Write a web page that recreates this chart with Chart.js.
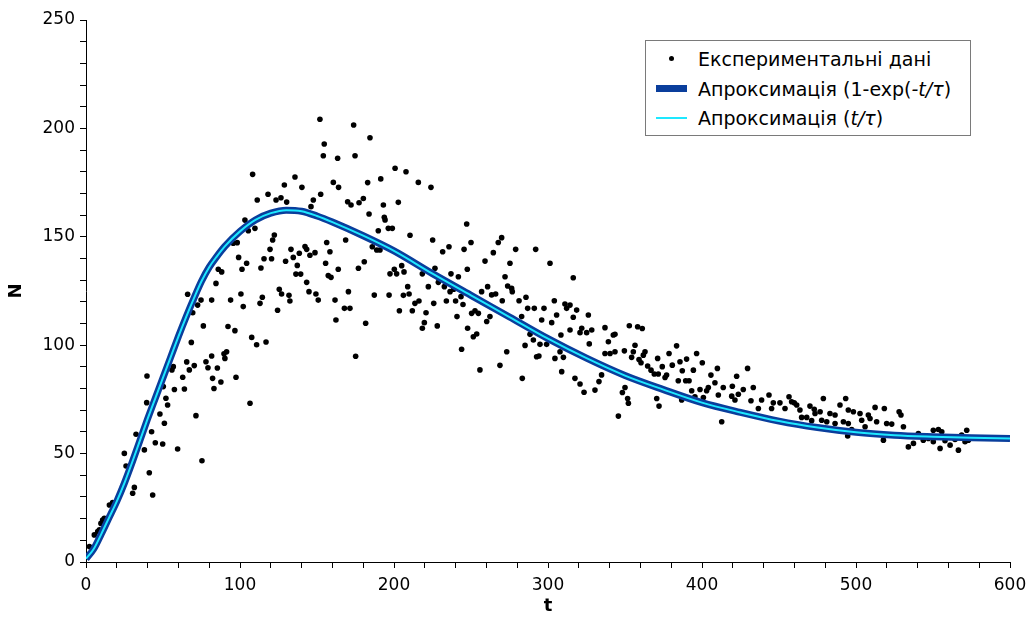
<!DOCTYPE html>
<html lang="uk">
<head>
  <meta charset="UTF-8">
  <title>N(t)</title>
  <script src="https://cdn.jsdelivr.net/npm/chart.js"></script>
  <style>
    body { margin: 0; background: #fff; }
    #wrap { position: relative; width: 1030px; height: 619px; }
    #legend {
      position: absolute; left: 645px; top: 40px; width: 324px; height: 94px;
      border: 1px solid #7a7a7a; background: #fff;
      font: 19px "DejaVu Sans", Verdana, sans-serif; color: #000;
    }
    .row { position: absolute; left: 52px; white-space: nowrap; line-height: 20px; }
    .sym { position: absolute; }
  </style>
</head>
<body>
<div id="wrap">
  <canvas id="chart" width="1030" height="619"></canvas>
  <div id="legend">
    <div class="sym" style="left:23px;top:15px;width:5px;height:5px;border-radius:50%;background:#000"></div>
    <div class="row" style="top:8px">Експериментальні дані</div>
    <div class="sym" style="left:10px;top:44px;width:31px;height:7px;background:#0a3e9c"></div>
    <div class="row" style="top:38px">Апроксимація (1-exp(<i>-t/τ</i>)</div>
    <div class="sym" style="left:10px;top:76px;width:31px;height:2px;background:#1ee8ff"></div>
    <div class="row" style="top:67px">Апроксимація (<i>t/τ</i>)</div>
  </div>
</div>
<script>
  // experimental points [t, N]
  const expPoints = [
    [2.2,7.1],[5.4,12.5],[7.6,14],[8.7,14.8],[9.7,17.8],[10.8,19.4],[11.9,20.1],[15.2,26.3],[17.3,27.4],
    [30.3,31.7],[31.4,34.4],[43.3,30.9],[41.1,41.2],[26,44.3],[24.9,50.1],[37.9,51.7],[45,55],[49.8,54.4],
    [59.5,52.1],[75.3,46.7],[32.5,58.9],[42.6,60.1],[50.9,64],[48,68.3],[71.4,67.5],[39.4,73.5],[53,72.4],
    [51.9,75.5],[39.6,85.8],[50.2,80.9],[57.4,79.6],[63.9,79.8],[55.8,88.6],[56.7,90.1],[62.8,85.2],
    [65.4,92.3],[67.1,88.6],[70.3,90.6],[77.9,92.4],[79.2,89.6],[68.4,101.3],[76.2,108.9],[69.3,115],
    [66,123.5],[74.7,120.8],[72.5,118.5],
    [151.9,204.2],[154.7,192.8],[154.1,187.4],[163.4,186.2],[108.2,178.8],[135.7,177.6],[128.8,173.9],
    [140.2,172.8],[160.6,175.1],[164,172.8],[111.2,167],[118.2,169.6],[123.4,167],[126.6,168],[130.3,166],
    [147.6,167],[152.4,169.6],[146.1,163.9],[103.2,157.7],[105.4,152.8],[109.7,153.9],[95.6,147],[98.2,147.3],
    [122.3,150.8],[121.2,148.5],[119.5,144.2],[133.1,144.2],[142.2,145.5],[143.3,144.2],[138.5,142.4],
    [145.4,141.5],[148.7,142.7],[134.6,140.5],[115.6,139.9],[120.5,139.9],[99.1,140.5],[104.3,137.8],
    [101.3,135],[113.6,135.6],[129.6,138.7],[137.2,136.8],[156.3,147.4],[158.4,143.1],[155.6,137.8],
    [157.3,132.1],[159.1,131.3],[163.8,135],[136.3,132.8],[139.4,132.8],[143.3,129],[85.9,135],[88.1,133.8],
    [84.4,128.5],[81.6,120.8],[93.9,120.8],[100.6,123.6],[102.1,117.8],[113,119.3],[114.5,122.1],
    [125.5,125.8],[127,123.6],[131.8,123],[132.4,120.4],[124.4,116.1],[144.8,124.7],[149.3,123.6],
    [150.8,120.8],[161.7,120.8],[162.3,111.6],[92.2,108.6],[96.7,106.7],[107.6,103.6],[110.8,100.2],
    [116.9,101.5],[81.6,95],[89.6,96],[91.3,97],[90.2,93.9],[85.3,89.5],[82.2,84.7],[87.6,83],[83.1,80],
    [97.4,85.2],[106.5,73.2],
    [173.8,201.6],[184.4,195.7],[174.7,187.4],[200.7,181.6],[207.8,180],[182.9,175],[191.4,176.7],
    [215.8,175.1],[224,172.8],[169.9,166.2],[172.1,164.7],[177.3,165.7],[180.1,167.7],[193.1,164.7],
    [202.8,165.9],[183.8,160.5],[193.7,159],[194.2,157.8],[196.3,153.9],[198.9,153.9],[189.8,152.8],
    [210.4,150.7],[225.1,148.5],[247.2,155.9],[168.6,148.5],[185.9,145.4],[188.8,143.9],[190.9,143.9],
    [235.7,145.4],[231.6,143.1],[245.5,144.2],[180.7,138.5],[205,136.7],[176.9,135.5],[197.4,132.9],
    [200.2,135],[201.7,132.9],[206.5,133.8],[218.4,132.9],[226.6,135.5],[237,132.9],[241.8,131.6],
    [247.6,135],[228.8,129],[232.7,127],[222.3,127],[208.9,127],[236.4,124.7],[238.8,125.8],[170.4,124.7],
    [187.2,123.1],[196.8,123.1],[206.1,123],[209.8,123.6],[213.6,119.3],[216.2,120.4],[225.8,119.3],
    [234,120.4],[240,120.4],[243.5,122.4],[244.8,118.8],[167.8,117],[171.4,117],[203.5,115.9],[211.9,115.9],
    [220.8,115],[181.6,110.1],[219.7,110.4],[218.4,107.8],[228.1,108.9],[240.9,113.2],[247.8,107.8],
    [243.9,98.1],[175.1,94.9],
    [250,147.4],[267.7,147.4],[269.9,149.6],[279,144.2],[292,144.2],[264.5,142.7],[259.1,138.8],
    [275.3,137.8],[301.3,137.8],[272.1,131.6],[316.4,131.1],[273.8,127.3],[276.4,126.2],[276.8,124.7],
    [260.8,127],[256.9,124.7],[263.4,123.2],[266,123.6],[270.3,120.5],[281.2,120.5],[285.7,122.1],
    [286.8,117],[291.1,117],[297.4,117],[304.1,120.5],[311,119],[314.3,118.5],[312.1,117],[318.6,116.2],
    [316.4,112.9],[326.2,113.9],[305.6,113.9],[295.9,111.6],[302.4,110.4],[250.4,114.7],[252.6,115.9],
    [254.8,114.7],[262.3,113.2],[260.2,110.9],[282.9,113.2],[251.5,103.9],[253.7,105.2],[288.3,105],
    [290.5,102.4],[285.1,99.9],[294.8,100.4],[299.1,100.4],[308.4,104.7],[314.3,107],[320.8,105.8],
    [321.9,107.8],[325.1,105.8],[328.4,107],[337,108.1],[326.8,100.6],[342.4,104.7],[339.2,101.6],
    [340.3,96.2],[337,96.2],[343.5,97],[307.8,97],[304.5,93.9],[310,94.4],[292.6,94.7],[294.1,95],
    [273.2,97],[268.8,90.7],[255.8,88.6],[308.9,87.8],[317.5,84.7],[320.8,82.1],[323.4,78.3],[330.5,79.3],
    [333.1,83.2],[334.8,86.3],[283.3,84.7],[345.7,67.3],
    [352.8,109],[358.2,108.5],[361.2,107.7],[343.5,105],[383.5,99.7],[356.5,100],[355.4,97],[349.6,97.4],
    [354.3,94.4],[363,97],[361.9,95.4],[359.1,93.4],[360.4,91.9],[378.6,96.2],[396.5,96.2],[371.2,93.9],
    [390,93.6],[385.7,92.4],[380.7,90.8],[400.2,91.9],[364.7,90.4],[374.2,90.1],[366.9,88.5],[387.2,88.2],
    [394.4,88.5],[410,89.3],[429.6,89.3],[369,86.7],[371.6,86.7],[377,86.2],[376,85.1],[405.8,86.2],
    [422.5,85.7],[384.6,83.6],[389.4,83.6],[391.6,83.6],[408.4,82.7],[398.7,79.6],[393.3,79],[404.1,80.5],
    [403,79],[413.8,80.5],[419.7,81.1],[426.8,79.6],[433.3,80.5],[410.6,77],[419.3,76.5],[423.6,77.4],
    [431.8,74.4],[438.7,74.7],[443.5,77],[456.5,76.2],[458.2,73.9],[459.9,73.4],[461.5,72.4],[450.6,73.4],
    [446.3,73.4],[436.6,70.8],[445.2,70.8],[453.9,70.8],[463.6,70.1],[470.1,71.9],[472.9,70.4],[348.3,78.2],
    [350,80.5],[351.7,75.4],[352.2,73.2],[370.6,75.4],[372.1,71.9],[412.8,64.7],[464.7,66.7],[468,66.7],
    [471.2,65.2],[473.4,68.5],[386.8,74.7],[395.4,76.2],[400.9,75.9],[421.4,74.7],
    [478.8,75.4],[493.3,75.4],[489.6,72.4],[476.7,69.3],[483.1,68.5],[486.4,67.8],[495,70.1],[498.3,69.3],
    [502.6,68.5],[508,67.8],[512.4,71.3],[518.4,70.8],[528,69.3],[529.2,67.8],[503.7,65.4],[509.1,66.2],
    [513.4,64.7],[519.9,63.9],[523.2,63.6],[530.8,62.4],[477.7,65.4],[481,64.7],[486.4,63.9],[491.8,64.7],
    [495,63.9],[497.2,61.1],[505.9,62.4],[494.6,58.1],[517.8,56.2],[534,53.1],[537.3,54.7],[540.5,59.3],
    [543.7,56.2],[547,57],[550.2,60.8],[553.5,61.1],[555.7,60.1],[550.2,55.5],[554.6,52.4],[557.8,55.9],
    [561.1,53.9],[566.5,51.6],[564.3,56.5],[568.6,58.5],[571.9,60.8],[573,56.2],[570.8,55.5]
  ];

  // fitted curve (both approximations coincide on the picture)
  const fitT = [0,5,10,15,20,25,30,35,40,45,50,55,60,65,70,75,80,85,90,100,110,120,130,140,150,160,180,200,
    225,250,275,300,325,350,375,400,425,450,475,500,525,550,575,600];
  const fitExp = [1.5,6,13,20.5,28,36.5,46,56,66,75.5,85,94.5,104,113,121.5,129.5,136,141,145.5,152.5,157.8,
    160.9,162.3,161.8,159.6,156.8,150.5,143.5,133,123,113,103,94,86,79.5,73.5,69,65,62,59.8,58.5,57.8,57.3,57];
  const fitLin = [1.5,6,13,20.5,28,36.5,46,56,66,75.5,85,94.5,104,113,121.5,129.5,136,141,145.5,152.5,157.8,
    160.9,162.3,161.8,159.6,156.8,150.5,143.5,133,123,113,103,94,86,79.5,73.5,69,65,62,59.8,58.5,57.8,57.3,57];

  const toXY = (xs, ys) => xs.map((x, i) => ({ x: x, y: ys[i] }));

  const tickFont = { family: 'DejaVu Sans', size: 17 };
  const titleFont = { family: 'DejaVu Sans', size: 18, weight: 'bold' };

  new Chart(document.getElementById('chart'), {
    type: 'scatter',
    data: {
      datasets: [
        {
          label: 'Апроксимація (t/τ)',
          data: toXY(fitT, fitLin),
          showLine: true, borderColor: '#1ee8ff', borderWidth: 2,
          pointRadius: 0, cubicInterpolationMode: 'monotone', order: 0
        },
        {
          label: 'Апроксимація (1-exp(-t/τ)',
          data: toXY(fitT, fitExp),
          showLine: true, borderColor: '#0a3e9c', borderWidth: 7,
          pointRadius: 0, cubicInterpolationMode: 'monotone', order: 1
        },
        {
          label: 'Експериментальні дані',
          data: expPoints.map(p => ({ x: p[0], y: p[1] })),
          backgroundColor: '#000', borderWidth: 0,
          pointRadius: 2.8, order: 2
        }
      ]
    },
    options: {
      responsive: false,
      animation: false,
      layout: { padding: { top: 20, right: 20, left: 0, bottom: 0 } },
      plugins: { legend: { display: false }, tooltip: { enabled: false } },
      scales: {
        x: {
          type: 'linear', min: 0, max: 600,
          afterFit: s => { s.height = 57; s.paddingLeft = 0; s.paddingRight = 0; },
          border: { display: true, color: '#000', width: 1 },
          grid: { drawOnChartArea: false, drawTicks: true, tickLength: 6, color: '#000' },
          ticks: {
            stepSize: 20, autoSkip: false, maxRotation: 0, color: '#000', font: tickFont, padding: 7,
            callback: v => (v % 100 === 0 ? String(v) : '')
          },
          title: { display: true, text: 't', color: '#000', font: titleFont, padding: { top: 0, bottom: 2 } }
        },
        y: {
          type: 'linear', min: 0, max: 250,
          afterFit: s => { s.width = 86; s.paddingTop = 0; s.paddingBottom = 0; },
          border: { display: true, color: '#000', width: 1 },
          grid: { drawOnChartArea: false, drawTicks: true, tickLength: 6, color: '#000' },
          ticks: {
            stepSize: 10, autoSkip: false, color: '#000', font: tickFont, padding: 5,
            callback: v => (v % 50 === 0 ? String(v) : '')
          },
          title: { display: true, text: 'N', color: '#000', font: titleFont, padding: { top: 6, bottom: 0 } }
        }
      }
    }
  });
</script>
</body>
</html>
